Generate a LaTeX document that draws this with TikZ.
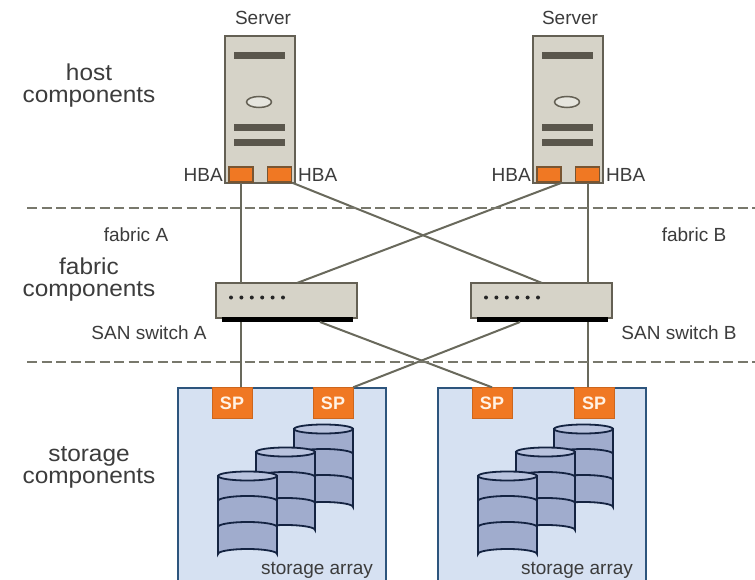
\documentclass[tikz,border=0pt]{standalone}
\usepackage{fontspec}
\setmainfont{Liberation Sans}
\newfontfamily\widefont[FakeStretch=1.06]{Liberation Sans}
\definecolor{casefill}{RGB}{214,211,200}
\definecolor{caseline}{RGB}{100,96,84}
\definecolor{hbafill}{RGB}{240,120,35}
\definecolor{hbaline}{RGB}{120,85,50}
\definecolor{arrayfill}{RGB}{214,225,242}
\definecolor{arrayline}{RGB}{45,85,125}
\definecolor{diskfill}{RGB}{160,172,205}
\definecolor{disktop}{RGB}{185,195,222}
\definecolor{diskline}{RGB}{20,35,65}
\definecolor{cableline}{RGB}{105,105,92}
\definecolor{labeltext}{RGB}{60,60,60}
\tikzset{
  lab/.style={font=\fontsize{19}{20}\selectfont,text=labeltext,inner sep=0pt,align=center},
  biglab/.style={font=\widefont\fontsize{23}{22}\selectfont,text=labeltext,inner sep=0pt,align=center},
  case/.style={draw=caseline,fill=casefill,line width=1.5pt},
  bar/.style={fill=caseline!90!black},
  hba/.style={draw=hbaline,fill=hbafill,line width=1.5pt,minimum width=24pt,minimum height=15pt,inner sep=0pt},
  sp/.style={fill=hbafill,draw=hbafill!85!black,minimum width=40pt,minimum height=31pt,inner sep=0pt,font=\bfseries\fontsize{18}{19}\selectfont,text=white!90!orange},
  cable/.style={draw=cableline,line width=2pt},
  zone/.style={draw=cableline!90!white,line width=1.5pt,dash pattern=on 10pt off 4.5pt},
  storage/.style={draw=arrayline,fill=arrayfill,line width=1.5pt}
}
\newcommand{\server}[3]{% x offset, left hba, right hba
\draw[case] (#1+225,36) rectangle (#1+295,183);
\fill[bar] (#1+234,52) rectangle (#1+285,59);
\fill[bar] (#1+234,124) rectangle (#1+285,131);
\fill[bar] (#1+234,139) rectangle (#1+285,146);
\draw[caseline,line width=1.5pt,fill=casefill!60!white] (#1+259,102) ellipse (12.5 and 5.5);
\node[hba] (#2) at (#1+241,174.5) {};
\node[hba] (#3) at (#1+279.5,174.5) {};
}
\newcommand{\switchbox}[1]{% x offset
\draw[case] (#1+216,283) rectangle (#1+357,318);
\foreach \i in {0,1,2,3,4,5} \fill[black!85] (#1+231+\i*10.4,297.5) circle (2);
\fill[black] (#1+222,317) rectangle (#1+353,322);
}
\newcommand{\disk}[2]{% left x, top y
\draw[diskline,line width=1.8pt,fill=diskfill] (#1,#2) -- (#1,#2+78) arc[start angle=180,end angle=360,x radius=29.5,y radius=5] -- (#1+59,#2) -- cycle;
\draw[diskline,line width=1.8pt,fill=disktop] (#1+29.5,#2) ellipse (29.5 and 4.5);
\draw[diskline,line width=1.8pt] (#1,#2+25) arc[start angle=180,end angle=360,x radius=29.5,y radius=5];
\draw[diskline,line width=1.8pt] (#1,#2+51) arc[start angle=180,end angle=360,x radius=29.5,y radius=5];
}
\newcommand{\diskarray}[1]{% x offset
\draw[storage] (#1+178,388) rectangle (#1+386,585);
\disk{#1+294}{429}
\disk{#1+256}{452}
\disk{#1+218}{476}
}
\begin{document}
\begin{tikzpicture}[x=1pt,y=-1pt]
\useasboundingbox (0,0) rectangle (755,580);
\fill[white] (0,0) rectangle (755,580);

% host
\server{0}{hbaAa}{hbaAb}
\server{308}{hbaBa}{hbaBb}

% fabric
\switchbox{0}
\switchbox{255}

% storage
\diskarray{0}
\diskarray{260}
\node[sp] (spAa) at (232,403) {SP};
\node[sp] (spAb) at (333,403) {SP};
\node[sp] (spBa) at (492,403) {SP};
\node[sp] (spBb) at (594,403) {SP};

% ports on the switches
\coordinate (swAa) at (241,283);
\coordinate (swAb) at (297,283);
\coordinate (swAc) at (241,322);
\coordinate (swAd) at (320,322);
\coordinate (swBa) at (542,283);
\coordinate (swBb) at (587.5,283);
\coordinate (swBc) at (520,322);
\coordinate (swBd) at (587.5,322);

\draw[cable] (hbaAa.south) -- (swAa);
\draw[cable] (hbaAb.south east) -- (swBa);
\draw[cable] (hbaBa.south east) -- (swAb);
\draw[cable] (hbaBb.south) -- (swBb);
\draw[cable] (swAc) -- (spAa.north -| swAc);
\draw[cable] (swAd) -- (spBa.north);
\draw[cable] (swBc) -- (spAb.north east);
\draw[cable] (swBd) -- (spBb.north -| swBd);

% zones
\coordinate (zoneAl) at (27,208);
\coordinate (zoneAr) at (755,208);
\coordinate (zoneBl) at (27,362);
\coordinate (zoneBr) at (755,362);
\draw[zone] (zoneAl) -- (zoneAr);
\draw[zone] (zoneBl) -- (zoneBr);

% labels
\node[lab] (srvA) at (263,18) {Server};
\node[lab] (srvB) at (570,18) {Server};
\node[lab,anchor=east] (hbaAal) at (223,175) {HBA};
\node[lab,anchor=west] (hbaAbl) at (298,175) {HBA};
\node[lab,anchor=east] (hbaBal) at (531,175) {HBA};
\node[lab,anchor=west] (hbaBbl) at (606,175) {HBA};
\node[lab] (fabA) at (136,235) {fabric A};
\node[lab] (fabB) at (694,235) {fabric B};
\node[lab] (swAl) at (149,333) {SAN switch A};
\node[lab] (swBl) at (679,333) {SAN switch B};
\node[lab] (arrA) at (317,570) {storage array};
\node[lab] (arrB) at (577,570) {storage array};
\node[biglab] (host) at (89,86) {host\\components};
\node[biglab] (fabric) at (89,280) {fabric\\components};
\node[biglab] (store) at (89,467) {storage\\components};
\end{tikzpicture}
\end{document}
